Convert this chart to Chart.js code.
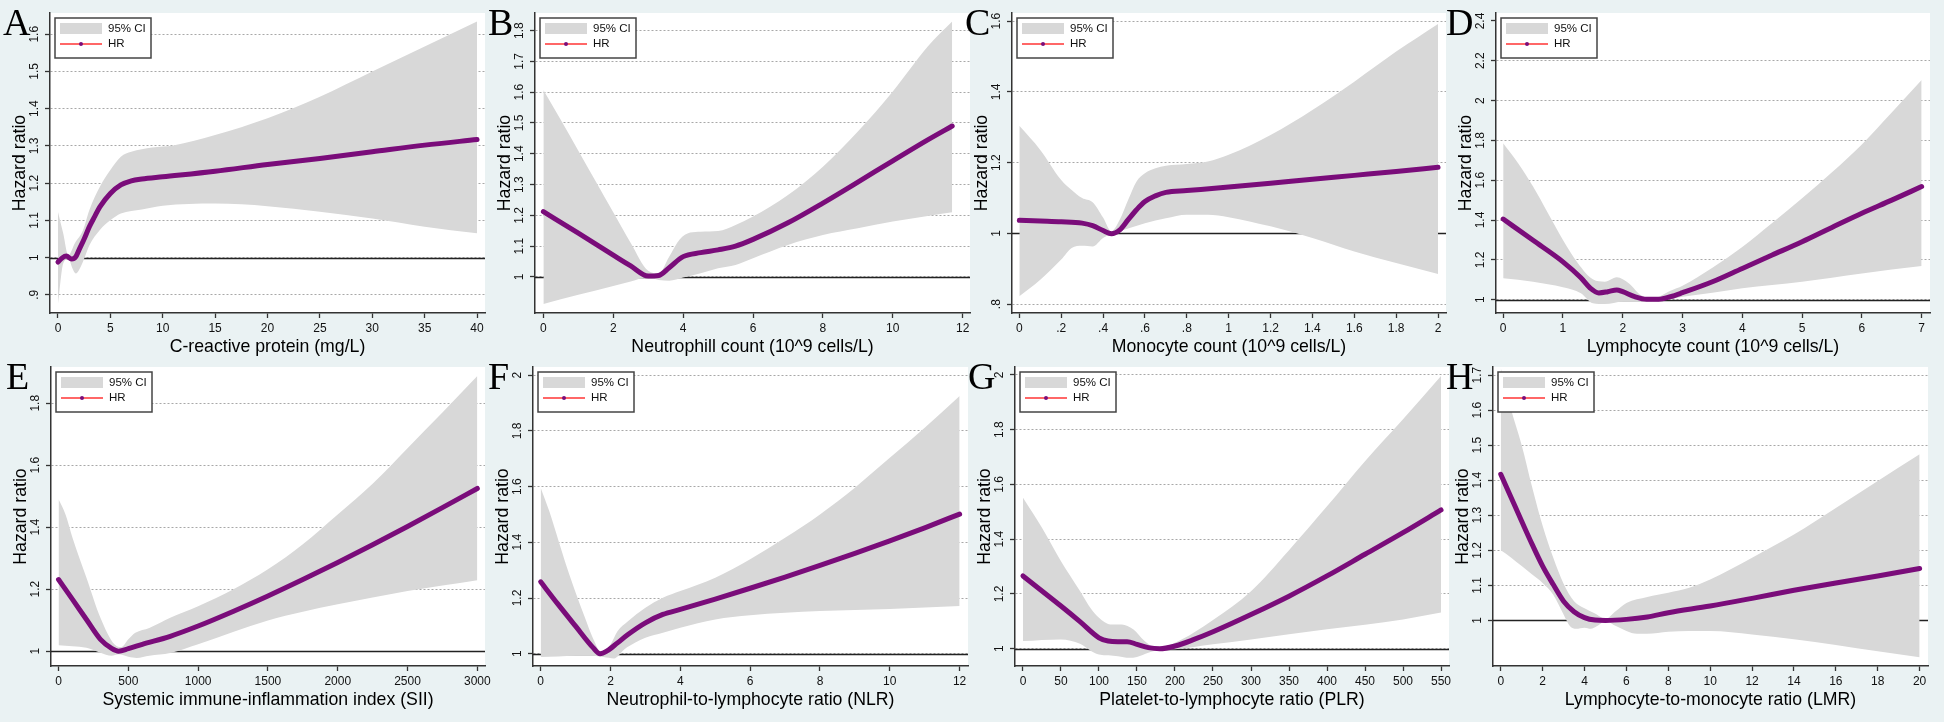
<!DOCTYPE html>
<html>
<head>
<meta charset="utf-8">
<script src="https://cdn.jsdelivr.net/npm/chart.js@4.4.1/dist/chart.umd.min.js"></script>
<style>
  html, body { margin: 0; padding: 0; }
  body { width: 1944px; height: 722px; background: #eaf2f3; position: relative; overflow: hidden; }
  .panel { position: absolute; }
  .letter { position: absolute; font-family: "Liberation Serif", "Times New Roman", serif; font-size: 38px; line-height: 38px; color: #000; }
</style>
</head>
<body>
<script>
// A: C-reactive protein
const crpHrX = [0, 0.4, 0.8, 1.3, 1.7, 2, 2.5, 3, 3.5, 4, 5, 6, 7, 8, 10, 15, 20, 25, 30, 35, 40];
const crpHrY = [0.988, 0.999, 1.004, 0.996, 1.002, 1.02, 1.05, 1.083, 1.11, 1.136, 1.172, 1.195, 1.206, 1.211, 1.217, 1.232, 1.25, 1.266, 1.284, 1.302, 1.317];
const crpUpX = [0, 0.5, 1, 1.6, 2.4, 3, 4, 5, 6, 7, 8, 10, 11, 15, 20, 25, 30, 35, 40];
const crpUpY = [1.123, 1.065, 1.006, 1.038, 1.074, 1.128, 1.19, 1.235, 1.271, 1.284, 1.291, 1.298, 1.301, 1.329, 1.374, 1.432, 1.5, 1.567, 1.634];
const crpLoX = [0, 0.5, 1, 1.4, 1.7, 2, 2.5, 3, 4, 5, 6, 8, 10, 15, 20, 25, 30, 35, 40];
const crpLoY = [0.876, 0.984, 0.997, 0.97, 0.957, 0.966, 0.997, 1.033, 1.074, 1.1, 1.118, 1.129, 1.139, 1.145, 1.138, 1.123, 1.105, 1.083, 1.065];
const crpXTicks = [0, 5, 10, 15, 20, 25, 30, 35, 40];
const crpYTicks = [0.9, 1, 1.1, 1.2, 1.3, 1.4, 1.5, 1.6];

// B: Neutrophil count
const neuHrX = [0, 1, 2, 2.5, 3, 3.3, 3.6, 4, 4.5, 5, 5.5, 6, 7, 8, 9, 10, 11, 11.7];
const neuHrY = [1.212, 1.142, 1.071, 1.036, 1.003, 1.005, 1.03, 1.066, 1.079, 1.088, 1.1, 1.122, 1.176, 1.24, 1.308, 1.377, 1.445, 1.49];
const neuUpX = [0, 0.5, 1, 1.5, 2, 2.5, 3, 3.3, 3.6, 3.9, 4.2, 4.5, 5, 5.5, 6, 7, 8, 9, 10, 11, 11.7];
const neuUpY = [1.607, 1.51, 1.41, 1.31, 1.21, 1.11, 1.02, 1.012, 1.066, 1.122, 1.144, 1.147, 1.149, 1.169, 1.196, 1.266, 1.358, 1.472, 1.602, 1.748, 1.829];
const neuLoX = [0, 1, 2, 2.5, 3, 3.3, 3.6, 4, 4.5, 5, 5.5, 6, 7, 8, 9, 10, 11, 11.7];
const neuLoY = [0.912, 0.942, 0.971, 0.985, 0.999, 0.99, 0.988, 0.998, 1.012, 1.028, 1.039, 1.061, 1.104, 1.136, 1.158, 1.18, 1.198, 1.21];
const neuXTicks = [0, 2, 4, 6, 8, 10, 12];
const neuYTicks = [1, 1.1, 1.2, 1.3, 1.4, 1.5, 1.6, 1.7, 1.8];

// C: Monocyte count
const monHrX = [0, 0.1, 0.2, 0.3, 0.35, 0.4, 0.44, 0.48, 0.52, 0.56, 0.6, 0.65, 0.7, 0.8, 1, 1.2, 1.4, 1.6, 1.8, 2];
const monHrY = [1.037, 1.035, 1.033, 1.029, 1.022, 1.008, 0.999, 1.01, 1.039, 1.067, 1.09, 1.106, 1.116, 1.121, 1.131, 1.142, 1.153, 1.164, 1.175, 1.187];
const monUpX = [0, 0.1, 0.2, 0.25, 0.3, 0.35, 0.4, 0.44, 0.48, 0.52, 0.56, 0.6, 0.65, 0.7, 0.8, 0.9, 1, 1.2, 1.4, 1.6, 1.8, 2];
const monUpY = [1.304, 1.236, 1.151, 1.123, 1.1, 1.088, 1.045, 1.006, 1.039, 1.095, 1.147, 1.17, 1.184, 1.191, 1.196, 1.203, 1.222, 1.278, 1.349, 1.429, 1.514, 1.592];
const monLoX = [0, 0.1, 0.2, 0.25, 0.3, 0.35, 0.4, 0.44, 0.5, 0.6, 0.7, 0.8, 0.9, 1, 1.2, 1.4, 1.6, 1.8, 2];
const monLoY = [0.822, 0.869, 0.926, 0.959, 0.965, 0.963, 0.987, 0.998, 1.01, 1.029, 1.043, 1.053, 1.053, 1.046, 1.02, 0.987, 0.949, 0.916, 0.885];
const monXTicks = [0, 0.2, 0.4, 0.6, 0.8, 1, 1.2, 1.4, 1.6, 1.8, 2];
const monYTicks = [0.8, 1, 1.2, 1.4, 1.6];

// D: Lymphocyte count
const lymHrX = [0, 0.5, 1, 1.3, 1.45, 1.6, 1.75, 1.9, 2, 2.2, 2.4, 2.6, 2.8, 3, 3.5, 4, 4.5, 5, 5.5, 6, 6.5, 7];
const lymHrY = [1.405, 1.298, 1.19, 1.11, 1.06, 1.034, 1.04, 1.049, 1.04, 1.015, 1.002, 1.002, 1.015, 1.035, 1.09, 1.157, 1.224, 1.291, 1.363, 1.434, 1.5, 1.568];
const lymUpX = [0, 0.25, 0.5, 0.75, 1, 1.25, 1.5, 1.7, 1.9, 2.1, 2.3, 2.5, 2.8, 3, 3.5, 4, 4.5, 5, 5.5, 6, 6.5, 7];
const lymUpY = [1.786, 1.685, 1.568, 1.434, 1.3, 1.183, 1.102, 1.09, 1.112, 1.082, 1.023, 1.007, 1.045, 1.07, 1.16, 1.265, 1.385, 1.51, 1.64, 1.78, 1.94, 2.104];
const lymLoX = [0, 0.5, 1, 1.3, 1.5, 1.7, 2, 2.5, 2.7, 3, 3.5, 4, 5, 6, 7];
const lymLoY = [1.107, 1.09, 1.062, 1.032, 0.982, 0.978, 0.99, 0.99, 0.998, 1.015, 1.035, 1.057, 1.09, 1.132, 1.169];
const lymXTicks = [0, 1, 2, 3, 4, 5, 6, 7];
const lymYTicks = [1, 1.2, 1.4, 1.6, 1.8, 2, 2.2, 2.4];

// E: Systemic immune-inflammation index
const siiHrX = [0, 100, 200, 300, 380, 430, 500, 600, 800, 1000, 1250, 1500, 1750, 2000, 2250, 2500, 2750, 3000];
const siiHrY = [1.231, 1.167, 1.102, 1.038, 1.009, 1.0, 1.008, 1.022, 1.048, 1.081, 1.128, 1.178, 1.231, 1.286, 1.343, 1.402, 1.463, 1.525];
const siiUpX = [0, 50, 100, 200, 300, 400, 450, 500, 550, 650, 800, 1000, 1250, 1500, 1750, 2000, 2250, 2500, 2750, 3000];
const siiUpY = [1.49, 1.441, 1.366, 1.237, 1.108, 1.022, 1.013, 1.038, 1.059, 1.075, 1.108, 1.145, 1.199, 1.264, 1.345, 1.441, 1.54, 1.655, 1.77, 1.888];
const siiLoX = [0, 100, 200, 300, 380, 430, 500, 560, 650, 800, 1000, 1250, 1500, 1750, 2000, 2500, 3000];
const siiLoY = [1.019, 1.016, 1.011, 0.995, 0.985, 0.99, 0.982, 0.978, 0.985, 0.994, 1.022, 1.062, 1.099, 1.127, 1.151, 1.194, 1.229];
const siiXTicks = [0, 500, 1000, 1500, 2000, 2500, 3000];
const siiYTicks = [1, 1.2, 1.4, 1.6, 1.8];

// F: Neutrophil-to-lymphocyte ratio
const nlrHrX = [0, 0.5, 1, 1.5, 1.7, 1.9, 2.2, 2.5, 3, 3.5, 4, 5, 6, 7, 8, 9, 10, 11, 12];
const nlrHrY = [1.258, 1.177, 1.099, 1.022, 1.0, 1.01, 1.039, 1.069, 1.111, 1.141, 1.159, 1.196, 1.235, 1.275, 1.317, 1.36, 1.405, 1.452, 1.501];
const nlrUpX = [0, 0.25, 0.5, 0.75, 1, 1.25, 1.5, 1.75, 2, 2.2, 2.5, 3, 3.5, 4, 5, 6, 7, 8, 9, 10, 11, 12];
const nlrUpY = [1.596, 1.51, 1.41, 1.31, 1.22, 1.135, 1.055, 1.004, 1.033, 1.081, 1.117, 1.165, 1.201, 1.225, 1.273, 1.339, 1.416, 1.5, 1.596, 1.703, 1.811, 1.925];
const nlrLoX = [0, 0.5, 1, 1.5, 1.8, 2.1, 2.4, 2.7, 3, 3.5, 4, 5, 6, 8, 10, 12];
const nlrLoY = [0.988, 0.99, 0.993, 0.993, 0.988, 0.983, 1.016, 1.039, 1.057, 1.075, 1.093, 1.123, 1.138, 1.153, 1.161, 1.171];
const nlrXTicks = [0, 2, 4, 6, 8, 10, 12];
const nlrYTicks = [1, 1.2, 1.4, 1.6, 1.8, 2];

// G: Platelet-to-lymphocyte ratio
const plrHrX = [0, 25, 50, 75, 100, 112, 125, 137, 150, 165, 180, 200, 225, 250, 300, 350, 400, 450, 500, 550];
const plrHrY = [1.266, 1.211, 1.156, 1.099, 1.04, 1.028, 1.026, 1.026, 1.016, 1.004, 1.0, 1.01, 1.034, 1.062, 1.125, 1.192, 1.266, 1.345, 1.424, 1.507];
const plrUpX = [0, 25, 50, 75, 90, 100, 115, 130, 145, 160, 175, 200, 250, 300, 350, 400, 450, 500, 550];
const plrUpY = [1.552, 1.442, 1.32, 1.211, 1.144, 1.113, 1.089, 1.089, 1.071, 1.028, 1.004, 1.022, 1.105, 1.21, 1.36, 1.52, 1.685, 1.838, 1.996];
const plrLoX = [0, 50, 75, 90, 100, 125, 140, 150, 165, 180, 200, 250, 300, 400, 500, 550];
const plrLoY = [1.028, 1.034, 1.018, 0.991, 0.979, 0.973, 0.967, 0.97, 0.985, 0.996, 0.998, 1.016, 1.034, 1.071, 1.107, 1.132];
const plrXTicks = [0, 50, 100, 150, 200, 250, 300, 350, 400, 450, 500, 550];
const plrYTicks = [1, 1.2, 1.4, 1.6, 1.8, 2];

// H: Lymphocyte-to-monocyte ratio
const lmrHrX = [0, 0.5, 1, 1.5, 2, 2.5, 3, 3.5, 4, 4.5, 5, 6, 7, 8, 10, 12, 14, 16, 18, 20];
const lmrHrY = [1.417, 1.35, 1.283, 1.217, 1.155, 1.103, 1.055, 1.025, 1.008, 1.001, 1.0, 1.003, 1.01, 1.022, 1.041, 1.063, 1.086, 1.107, 1.127, 1.148];
const lmrUpX = [0, 0.5, 1, 1.5, 2, 2.5, 3, 3.5, 4, 4.5, 5, 5.5, 6, 7, 8, 9, 10, 12, 14, 16, 18, 20];
const lmrUpY = [1.72, 1.6, 1.5, 1.38, 1.27, 1.18, 1.105, 1.055, 1.035, 1.02, 1.005, 1.027, 1.05, 1.067, 1.079, 1.093, 1.117, 1.179, 1.245, 1.321, 1.398, 1.474];
const lmrLoX = [0, 0.5, 1, 1.5, 2, 2.5, 3, 3.3, 3.6, 4, 4.3, 4.6, 5, 5.5, 6, 6.5, 7, 8, 10, 12, 14, 16, 18, 20];
const lmrLoY = [1.2, 1.179, 1.155, 1.131, 1.107, 1.074, 1.017, 0.984, 0.976, 0.979, 0.976, 0.984, 0.998, 0.984, 0.97, 0.962, 0.962, 0.968, 0.97, 0.96, 0.946, 0.93, 0.912, 0.895];
const lmrXTicks = [0, 2, 4, 6, 8, 10, 12, 14, 16, 18, 20];
const lmrYTicks = [1, 1.1, 1.2, 1.3, 1.4, 1.5, 1.6, 1.7];

const REF_HR = 1;

// layout: plot box [left, top, right, bottom] in page px, axis ranges
const panels = [
  { letter: 'A', lpos: [3, 3], box: [50, 13, 485, 313], xr: [-0.76, 40.76], yr: [0.851, 1.657], xTitle: 'C-reactive protein (mg/L)',
    hrX: crpHrX, hrY: crpHrY, upX: crpUpX, upY: crpUpY, loX: crpLoX, loY: crpLoY, xTicks: crpXTicks, yTicks: crpYTicks },
  { letter: 'B', lpos: [488, 3], box: [535, 13, 970, 313], xr: [-0.24, 12.21], yr: [0.883, 1.857], xTitle: 'Neutrophill count (10^9 cells/L)',
    hrX: neuHrX, hrY: neuHrY, upX: neuUpX, upY: neuUpY, loX: neuLoX, loY: neuLoY, xTicks: neuXTicks, yTicks: neuYTicks },
  { letter: 'C', lpos: [965, 3], box: [1012, 13, 1446, 313], xr: [-0.035, 2.038], yr: [0.775, 1.623], xTitle: 'Monocyte count (10^9 cells/L)',
    hrX: monHrX, hrY: monHrY, upX: monUpX, upY: monUpY, loX: monLoX, loY: monLoY, xTicks: monXTicks, yTicks: monYTicks },
  { letter: 'D', lpos: [1446, 3], box: [1496, 13, 1930, 313], xr: [-0.12, 7.14], yr: [0.933, 2.44], xTitle: 'Lymphocyte count (10^9 cells/L)',
    hrX: lymHrX, hrY: lymHrY, upX: lymUpX, upY: lymUpY, loX: lymLoX, loY: lymLoY, xTicks: lymXTicks, yTicks: lymYTicks, noGrid: [2.4] },
  { letter: 'E', lpos: [6, 357], box: [51, 367, 485, 666], xr: [-54, 3055], yr: [0.952, 1.917], xTitle: 'Systemic immune-inflammation index (SII)',
    hrX: siiHrX, hrY: siiHrY, upX: siiUpX, upY: siiUpY, loX: siiLoX, loY: siiLoY, xTicks: siiXTicks, yTicks: siiYTicks },
  { letter: 'F', lpos: [488, 357], box: [533, 367, 968, 666], xr: [-0.22, 12.24], yr: [0.956, 2.029], xTitle: 'Neutrophil-to-lymphocyte ratio (NLR)',
    hrX: nlrHrX, hrY: nlrHrY, upX: nlrUpX, upY: nlrUpY, loX: nlrLoX, loY: nlrLoY, xTicks: nlrXTicks, yTicks: nlrYTicks },
  { letter: 'G', lpos: [968, 357], box: [1015, 367, 1449, 666], xr: [-10.5, 560.5], yr: [0.937, 2.029], xTitle: 'Platelet-to-lymphocyte ratio (PLR)',
    hrX: plrHrX, hrY: plrHrY, upX: plrUpX, upY: plrUpY, loX: plrLoX, loY: plrLoY, xTicks: plrXTicks, yTicks: plrYTicks },
  { letter: 'H', lpos: [1446, 357], box: [1493, 367, 1928, 666], xr: [-0.37, 20.4], yr: [0.87, 1.723], xTitle: 'Lymphocyte-to-monocyte ratio (LMR)',
    hrX: lmrHrX, hrY: lmrHrY, upX: lmrUpX, upY: lmrUpY, loX: lmrLoX, loY: lmrLoY, xTicks: lmrXTicks, yTicks: lmrYTicks }
];

const FONT = '"Liberation Sans", Arial, sans-serif';
const CI_COLOR = '#d8d8d8';
const HR_COLOR = '#7a0c7a';
const AXIS_COLOR = '#333';
const GRID_COLOR = '#a8a8a8';
const PAD_L = 60, PAD_T = 13, PAD_R = 20, PAD_B = 50;

Chart.defaults.font.family = FONT;

function fmt(v) {
  return String(Math.round(v * 1000) / 1000).replace(/^0\./, '.');
}
function zip(xs, ys) {
  return xs.map((x, i) => ({ x: x, y: ys[i] }));
}

const plotBg = {
  id: 'plotBg',
  beforeDraw(chart) {
    const { ctx, chartArea: a } = chart;
    ctx.save();
    ctx.fillStyle = '#fff';
    ctx.fillRect(a.left, a.top, a.right - a.left, a.bottom - a.top);
    ctx.restore();
  }
};

const refLine = {
  id: 'refLine',
  beforeDatasetsDraw(chart) {
    const { ctx, chartArea: a } = chart;
    const y = Math.round(chart.scales.y.getPixelForValue(REF_HR)) + 0.5;
    ctx.save();
    ctx.strokeStyle = '#222';
    ctx.lineWidth = 1.5;
    ctx.beginPath();
    ctx.moveTo(a.left, y);
    ctx.lineTo(a.right, y);
    ctx.stroke();
    ctx.restore();
  }
};

// Stata-style vertical y tick labels
const yTickLabels = {
  id: 'yTickLabels',
  afterDraw(chart) {
    const { ctx, chartArea: a } = chart;
    const s = chart.scales.y;
    ctx.save();
    ctx.font = '12px ' + FONT;
    ctx.fillStyle = '#111';
    ctx.textAlign = 'center';
    ctx.textBaseline = 'middle';
    s.ticks.forEach(t => {
      ctx.save();
      ctx.translate(a.left - 15, s.getPixelForValue(t.value));
      ctx.rotate(-Math.PI / 2);
      ctx.fillText(fmt(t.value), 0, 0);
      ctx.restore();
    });
    ctx.restore();
  }
};

const stataLegend = {
  id: 'stataLegend',
  afterDraw(chart) {
    const { ctx, chartArea: a } = chart;
    const ds = chart.data.datasets;
    const x = a.left + 5, y = a.top + 5, w = 96, h = 40;
    ctx.save();
    ctx.fillStyle = '#fff';
    ctx.fillRect(x, y, w, h);
    ctx.strokeStyle = '#444';
    ctx.lineWidth = 1.5;
    ctx.strokeRect(x, y, w, h);
    ctx.fillStyle = CI_COLOR;
    ctx.fillRect(x + 5, y + 5, 42, 11);
    ctx.strokeStyle = '#ff3535';
    ctx.lineWidth = 1.5;
    ctx.beginPath();
    ctx.moveTo(x + 5, y + 26);
    ctx.lineTo(x + 47, y + 26);
    ctx.stroke();
    ctx.fillStyle = HR_COLOR;
    ctx.beginPath();
    ctx.arc(x + 26, y + 26, 2, 0, Math.PI * 2);
    ctx.fill();
    ctx.fillStyle = '#111';
    ctx.font = '11.5px ' + FONT;
    ctx.textAlign = 'left';
    ctx.textBaseline = 'middle';
    ctx.fillText(ds[0].label, x + 53, y + 11);
    ctx.fillText(ds[2].label, x + 53, y + 26);
    ctx.restore();
  }
};

function makePanel(p) {
  const [l, t, r, b] = p.box;
  const div = document.createElement('div');
  div.className = 'panel';
  div.style.left = (l - PAD_L) + 'px';
  div.style.top = (t - PAD_T) + 'px';
  div.style.width = (r - l + PAD_L + PAD_R) + 'px';
  div.style.height = (b - t + PAD_T + PAD_B) + 'px';
  const cv = document.createElement('canvas');
  div.appendChild(cv);
  document.body.appendChild(div);
  const noGrid = p.noGrid || [];

  new Chart(cv, {
    type: 'line',
    data: {
      datasets: [
        { label: '95% CI', data: zip(p.upX, p.upY), fill: '+1', backgroundColor: CI_COLOR, borderWidth: 0, pointRadius: 0, order: 3 },
        { label: 'lower', data: zip(p.loX, p.loY), fill: false, borderWidth: 0, pointRadius: 0, order: 2 },
        { label: 'HR', data: zip(p.hrX, p.hrY), fill: false, borderColor: HR_COLOR, borderWidth: 5, pointRadius: 0, order: 1 }
      ]
    },
    options: {
      responsive: true,
      maintainAspectRatio: false,
      animation: false,
      events: [],
      layout: { padding: { left: 0, top: PAD_T, right: PAD_R, bottom: 0 } },
      elements: { line: { cubicInterpolationMode: 'monotone', borderCapStyle: 'round', borderJoinStyle: 'round' } },
      plugins: { legend: { display: false }, tooltip: { enabled: false } },
      scales: {
        x: {
          type: 'linear',
          min: p.xr[0],
          max: p.xr[1],
          afterBuildTicks: s => { s.ticks = p.xTicks.map(v => ({ value: v })); },
          afterFit: s => { s.height = PAD_B; },
          grid: { drawOnChartArea: false, drawTicks: true, tickLength: 5, tickColor: AXIS_COLOR, tickWidth: 1.3 },
          border: { display: true, color: AXIS_COLOR, width: 1.5 },
          ticks: { autoSkip: false, maxRotation: 0, minRotation: 0, padding: 3, color: '#111', font: { size: 12 }, callback: v => fmt(v) },
          title: { display: true, text: p.xTitle, color: '#000', font: { size: 17.7 }, padding: { top: 0, bottom: 5 } }
        },
        y: {
          type: 'linear',
          min: p.yr[0],
          max: p.yr[1],
          afterBuildTicks: s => { s.ticks = p.yTicks.map(v => ({ value: v })); },
          afterFit: s => { s.width = PAD_L; },
          grid: {
            color: c => (c.tick && noGrid.includes(c.tick.value)) ? 'rgba(0,0,0,0)' : GRID_COLOR,
            lineWidth: 1, drawTicks: true, tickLength: 5, tickColor: AXIS_COLOR, tickWidth: 1.3, tickBorderDash: []
          },
          border: { display: true, color: AXIS_COLOR, width: 1.5, dash: [2, 2] },
          ticks: { display: false },
          title: { display: true, text: 'Hazard ratio', color: '#000', font: { size: 17.7 }, padding: { top: 19, bottom: 0 } }
        }
      }
    },
    plugins: [plotBg, refLine, yTickLabels, stataLegend]
  });
}

panels.forEach(makePanel);

panels.forEach(p => {
  const d = document.createElement('div');
  d.className = 'letter';
  d.style.left = p.lpos[0] + 'px';
  d.style.top = p.lpos[1] + 'px';
  d.textContent = p.letter;
  document.body.appendChild(d);
});
</script>
</body>
</html>
